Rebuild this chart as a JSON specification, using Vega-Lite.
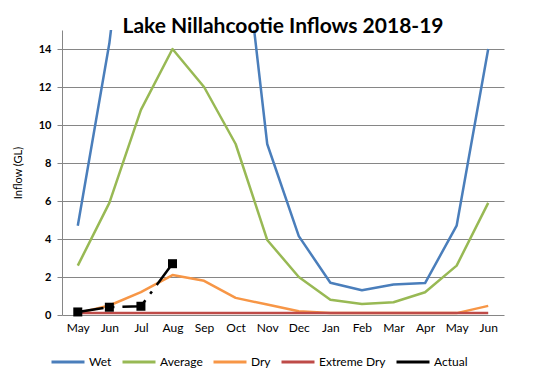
{
  "$schema": "https://vega.github.io/schema/vega-lite/v6.json",
  "width": 442,
  "height": 285,
  "autosize": {"type": "none"},
  "padding": {"left": 62, "top": 30, "right": 40, "bottom": 68},
  "background": "white",
  "config": {"view": {"stroke": null}},
  "title": {
    "text": "Lake Nillahcootie Inflows 2018-19",
    "font": "Lato",
    "fontSize": 21,
    "fontWeight": "bold",
    "color": "#000000",
    "anchor": "middle",
    "baseline": "alphabetic",
    "offset": -24
  },
  "data": {
    "values": [
      {"m": "May 2018", "Wet": 4.7, "Average": 2.6, "Dry": 0.1, "Extreme Dry": 0.1, "Actual": 0.16},
      {"m": "Jun 2018", "Wet": 14.3, "Average": 5.9, "Dry": 0.5, "Extreme Dry": 0.1, "Actual": 0.41},
      {"m": "Jul 2018", "Wet": 28, "Average": 10.8, "Dry": 1.2, "Extreme Dry": 0.1, "Actual": 0.46},
      {"m": "Aug 2018", "Wet": 35, "Average": 14.0, "Dry": 2.1, "Extreme Dry": 0.1, "Actual": 2.7},
      {"m": "Sep 2018", "Wet": 30, "Average": 12.0, "Dry": 1.8, "Extreme Dry": 0.1, "Actual": null},
      {"m": "Oct 2018", "Wet": 23.5, "Average": 9.0, "Dry": 0.9, "Extreme Dry": 0.1, "Actual": null},
      {"m": "Nov 2018", "Wet": 9.0, "Average": 3.95, "Dry": 0.55, "Extreme Dry": 0.1, "Actual": null},
      {"m": "Dec 2018", "Wet": 4.15, "Average": 2.0, "Dry": 0.2, "Extreme Dry": 0.1, "Actual": null},
      {"m": "Jan 2019", "Wet": 1.7, "Average": 0.8, "Dry": 0.1, "Extreme Dry": 0.1, "Actual": null},
      {"m": "Feb 2019", "Wet": 1.3, "Average": 0.58, "Dry": 0.1, "Extreme Dry": 0.1, "Actual": null},
      {"m": "Mar 2019", "Wet": 1.6, "Average": 0.67, "Dry": 0.1, "Extreme Dry": 0.1, "Actual": null},
      {"m": "Apr 2019", "Wet": 1.68, "Average": 1.2, "Dry": 0.1, "Extreme Dry": 0.1, "Actual": null},
      {"m": "May 2019", "Wet": 4.7, "Average": 2.6, "Dry": 0.1, "Extreme Dry": 0.1, "Actual": null},
      {"m": "Jun 2019", "Wet": 14.0, "Average": 5.9, "Dry": 0.48, "Extreme Dry": 0.1, "Actual": null}
    ]
  },
  "encoding": {
    "x": {
      "field": "m",
      "type": "ordinal",
      "sort": ["May 2018", "Jun 2018", "Jul 2018", "Aug 2018", "Sep 2018", "Oct 2018", "Nov 2018", "Dec 2018", "Jan 2019", "Feb 2019", "Mar 2019", "Apr 2019", "May 2019", "Jun 2019"],
      "axis": {
        "title": null,
        "domain": false,
        "ticks": false,
        "grid": false,
        "labelAngle": 0,
        "labelFont": "Lato",
        "labelFontSize": 12,
        "labelColor": "#000000",
        "labelPadding": 7,
        "labelExpr": "split(datum.label, ' ')[0]"
      }
    }
  },
  "layer": [
    {
      "transform": [{"fold": ["Wet", "Average", "Dry", "Extreme Dry"], "as": ["series", "v"]}],
      "mark": {"type": "line", "clip": true, "strokeJoin": "round"},
      "encoding": {
        "y": {
          "field": "v",
          "type": "quantitative",
          "scale": {"domain": [0, 15], "nice": false},
          "axis": {
            "title": "Inflow (GL)",
            "values": [0, 2, 4, 6, 8, 10, 12, 14],
            "grid": true,
            "gridColor": "#868686",
            "gridWidth": 1,
            "domainColor": "#868686",
            "tickColor": "#868686",
            "tickSize": 5,
            "labelFont": "Lato",
            "labelFontSize": 11,
            "labelFontWeight": "bold",
            "labelColor": "#000000",
            "labelPadding": 6,
            "titleFont": "Lato",
            "titleFontSize": 11,
            "titleFontWeight": "normal",
            "titleColor": "#000000",
            "titlePadding": 15
          }
        },
        "color": {
          "field": "series",
          "type": "nominal",
          "scale": {
            "domain": ["Wet", "Average", "Dry", "Extreme Dry", "Actual"],
            "range": ["#4A7EBB", "#98B954", "#F79646", "#BE4B48", "#000000"]
          },
          "legend": {
            "orient": "none",
            "legendX": -12,
            "legendY": 314,
            "direction": "horizontal",
            "columns": 5,
            "title": null,
            "symbolType": "stroke",
            "symbolSize": 1089,
            "symbolStrokeWidth": 3,
            "labelFont": "Lato",
            "labelFontSize": 12,
            "labelColor": "#000000",
            "labelOffset": 3,
            "columnPadding": 4
          }
        },
        "strokeWidth": {
          "field": "series",
          "type": "nominal",
          "scale": {"domain": ["Wet", "Average", "Dry", "Extreme Dry"], "range": [2.5, 2.5, 2.5, 4]},
          "legend": null
        }
      }
    },
    {
      "transform": [{"filter": "isValid(datum.Actual)"}],
      "mark": {"type": "line", "strokeDash": [26, 8, 3, 8], "strokeWidth": 2.5},
      "encoding": {
        "y": {"field": "Actual", "type": "quantitative"},
        "color": {"datum": "Actual"}
      }
    },
    {
      "transform": [{"filter": "isValid(datum.Actual)"}],
      "mark": {"type": "point", "shape": "square", "filled": true, "size": 81, "opacity": 1, "color": "#000000"},
      "encoding": {
        "y": {"field": "Actual", "type": "quantitative"}
      }
    }
  ]
}
